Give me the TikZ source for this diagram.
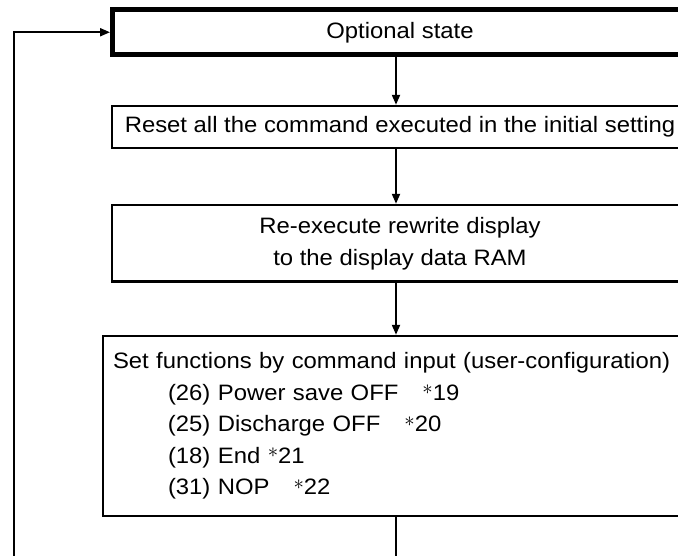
\documentclass[tikz,border=0pt]{standalone}
\usepackage{fontspec}
\setmainfont{Liberation Sans}[FakeStretch=1.07]
\usetikzlibrary{arrows.meta}
% raised note asterisk
\newcommand{\noteast}{\raisebox{5.5pt}{$\ast$}}
\begin{document}
\begin{tikzpicture}[x=1pt,y=-1pt,
  box/.style={draw, rectangle, line width=2.4pt, inner sep=0pt, align=center,
    font=\fontsize{22.3}{32}\selectfont},
  thickbox/.style={box, line width=5pt},
  flow/.style={line width=2pt, -{Triangle[length=10pt,width=8pt]}},
  plain/.style={line width=2pt},
]
\useasboundingbox (0,0) rectangle (678,556);
\clip (0,0) rectangle (678,556);
\fill[white] (0,0) rectangle (678,556);

% column of the vertical connectors
\coordinate (ax) at (396,0);

% process boxes
\node[thickbox, minimum width=575pt, minimum height=44.5pt] (opt) at (400,32.25) {Optional state};
\node[box, minimum width=576pt, minimum height=42pt] (reset) at (400,127)
  {Reset all the command executed in the initial setting};
\node[box, minimum width=576pt, minimum height=76.5pt] (rewrite) at (400,243.25)
  {Re-execute rewrite display\\to the display data RAM};
\node[box, minimum width=594pt, minimum height=180pt, text width=574pt, inner xsep=10pt,
  align=left, font=\fontsize{22.3}{31.5}\selectfont] (setfn) at (400,426)
  {Set functions by command input (user-configuration)\\
   \hspace*{55pt}(26) Power save OFF\hspace{24pt}\noteast19\\
   \hspace*{55pt}(25) Discharge OFF\hspace{24pt}\noteast20\\
   \hspace*{55pt}(18) End \noteast21\\
   \hspace*{55pt}(31) NOP\hspace{24pt}\noteast22};

% flow connectors
\draw[flow] (opt.south -| ax) -- (reset.north -| ax);
\draw[flow] (reset.south -| ax) -- (rewrite.north -| ax);
\draw[flow] (rewrite.south -| ax) -- (setfn.north -| ax);
\coordinate (outB) at (396,560);
\draw[plain] (setfn.south -| ax) -- (outB);

% return path into the optional state
\coordinate (loopB) at (14,560);
\draw[flow] (loopB) |- (opt.west);
\end{tikzpicture}
\end{document}
